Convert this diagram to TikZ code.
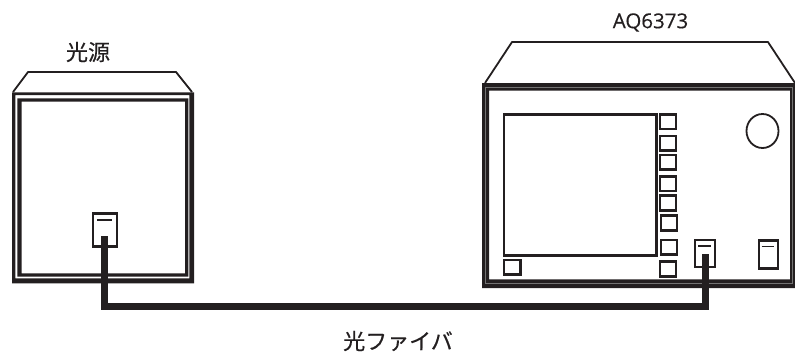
\documentclass[tikz,border=0pt]{standalone}
\usepackage{fontspec}
\newfontfamily\cjk[RawFeature={embolden=0.35}]{Noto Sans CJK JP}
\setmainfont[RawFeature={embolden=0.35}]{Open Sans}
\definecolor{ink}{HTML}{231F20}
\tikzset{
  x=1pt,y=-1pt,
  every node/.style={inner sep=0pt,outer sep=0pt},
  lab/.style={text=ink,font=\cjk\fontsize{22}{24}\selectfont,anchor=center},
  latin/.style={text=ink,font=\fontsize{20.5}{22}\selectfont,anchor=center},
  frame/.style={fill=ink,even odd rule},
  seam/.style={draw=black!55,line width=0.8pt},
  thin/.style={draw=ink,line width=1.8pt},
  key/.style={draw=ink,line width=2.4pt,fill=white},
  porttick/.style={draw=ink,line width=1.3pt},
  cable/.style={draw=ink,line width=7pt,line join=miter}
}
\begin{document}
\begin{tikzpicture}
\useasboundingbox (0,0) rectangle (795,354);
% light source
\node[lab] (srclabel) at (88,52) {光源};
\draw[thin,line join=round] (13,92) -- (28,72) -- (176,72) -- (192,92);
\fill[frame] (12,92.3) rectangle (194,283.3) (15.3,95) rectangle (189.3,278.3);
\fill[frame] (17.3,98.3) rectangle (188.3,276.7) (21.7,101.7) rectangle (185,273.3);
\draw[key] (92.8,213.5) rectangle (116.8,246.5);
\draw[porttick] (97,220) -- (112,220);
% AQ6373
\node[latin] (aqlabel) at (650.5,22.5) {AQ6373};
\draw[thin,line join=round] (485,83) -- (512,42) -- (768,42) -- (795,83);
\fill[frame] (482,83) rectangle (795,288) (489,90.7) rectangle (790,279.3);
\draw[seam] (485.5,87) rectangle (792.5,283.7);
\draw[key] (504,114.5) rectangle (656.5,255.5);
\draw[key] (660,114.5) rectangle (676,129);
\draw[key] (660,136) rectangle (676,150.5);
\draw[key] (660,155) rectangle (676,169.5);
\draw[key] (660,176.5) rectangle (676,191);
\draw[key] (660,195.5) rectangle (676,210.5);
\draw[key] (661,215.5) rectangle (677,230.5);
\draw[key] (661,240) rectangle (677,254.5);
\draw[key] (660,261.5) rectangle (676,276.5);
\draw[key] (504,260) rectangle (520.5,274.5);
\draw[thin] (762.5,131) ellipse (16 and 17);
\draw[key] (695,240) rectangle (715,267);
\draw[porttick] (698,246) -- (711,246);
\draw[key] (759,240.5) rectangle (778,268.5);
\draw[porttick] (761.5,246.5) -- (774,246.5);
% fibre
\coordinate (srcin) at (104.5,236);
\coordinate (aqin) at (705.3,254);
\draw[cable] (srcin) |- (705.3,306.5) -- (aqin);
\node[lab] (fibre) at (398,341) {光ファイバ};
\end{tikzpicture}
\end{document}
